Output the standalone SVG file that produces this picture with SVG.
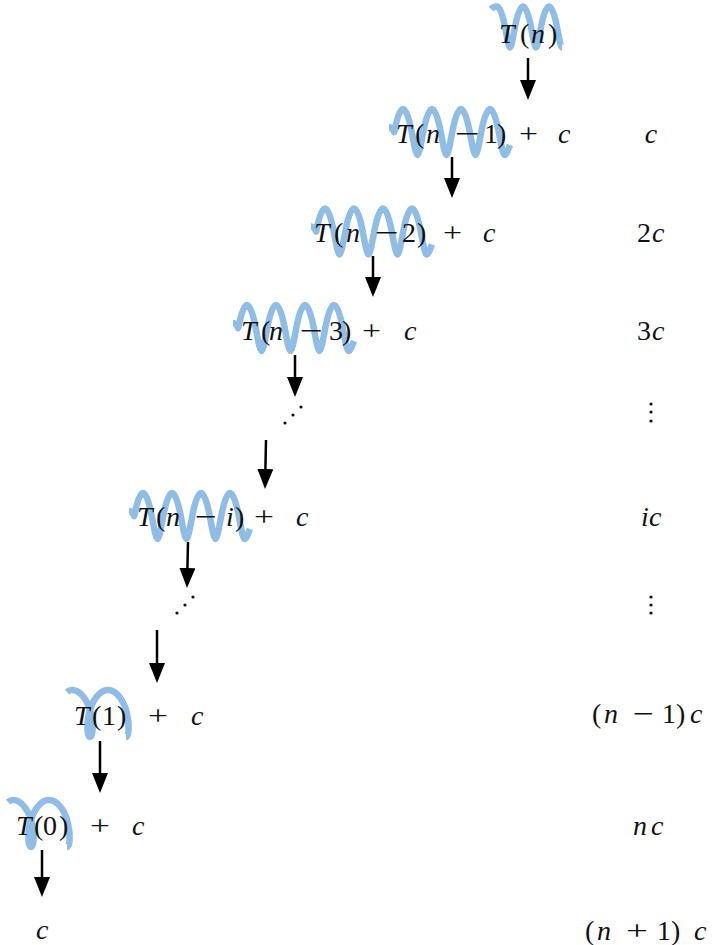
<svg xmlns="http://www.w3.org/2000/svg" xmlns:xlink="http://www.w3.org/1999/xlink" width="716" height="945" viewBox="0 0 716 945" font-family="Liberation Serif, serif">
<style>
.coil{fill:none;stroke:#8fbde6;stroke-width:6.5;stroke-linejoin:round}
text,tspan{font-family:"Liberation Serif",serif}
.m{font-size:28px;font-style:italic;fill:#111}
.r{font-size:28px;font-style:normal;fill:#111}
.arr{stroke:#000;stroke-width:2.5;fill:none;marker-end:url(#ah)}
.dot{fill:#111}
</style>
<defs>
<marker id="ah" markerUnits="userSpaceOnUse" markerWidth="20" markerHeight="16" refX="10" refY="8" orient="auto">
<path d="M0,0 L20,8 L0,16 z" fill="#000"/>
</marker>
<path id="coil4" class="coil" d="M-14,-5 c1.5,0 3.5,1.5 5.25,5 c2.417,-12.7 5.505,-23 8.75,-23 c3.245,0 6.333,10.3 8.75,23 c2.417,12.7 4.161,23 5.75,23 c1.589,0 3.333,-10.3 5.75,-23 c2.417,-12.7 5.505,-23 8.75,-23 c3.245,0 6.333,10.3 8.75,23 c2.417,12.7 4.161,23 5.75,23 c1.589,0 3.333,-10.3 5.75,-23 c2.417,-12.7 5.505,-23 8.75,-23 c3.245,0 6.333,10.3 8.75,23 c2.417,12.7 4.161,23 5.75,23 c1.589,0 3.333,-10.3 5.75,-23 c2.417,-12.7 5.505,-23 8.75,-23 c3.245,0 6.333,10.3 8.75,23 c2.417,12.7 4.161,23 5.75,23 c1.589,0 3.5,-5 5.5,-10"/>
<path id="coil2" class="coil" d="M67,692 c1.5,-1.3 3,-2 5,-2 c8.523,0 16,10.52 19,23.5 c3,12.98 1.523,23.5 -1,23.5 c-2.523,0 -4,-10.52 -1,-23.5 c3,-12.98 10.477,-23.5 19,-23.5 c8.523,0 16,10.52 19,23.5 c3,12.98 1.523,23.5 -1,23.5"/>
</defs>

<g id="node-Tn">
<path class="coil" d="M491,9 c1.8,-2 3.8,-2.5 6,-2.5 c2.995,0 5.833,9.18 8,20.5 c2.167,11.32 3.661,20.5 5,20.5 c1.339,0 2.833,-9.18 5,-20.5 c2.167,-11.32 5.005,-20.5 8,-20.5 c2.995,0 5.833,9.18 8,20.5 c2.167,11.32 3.661,20.5 5,20.5 c1.339,0 2.833,-9.18 5,-20.5 c2.167,-11.32 5.005,-20.5 8,-20.5 c2.995,0 5.833,9.18 8,20.5 c2.167,11.32 3.661,20.5 5,20.5"/>
<text y="43"><tspan class="m" x="499">T</tspan><tspan class="r" x="520">(</tspan><tspan class="m" x="531">n</tspan><tspan class="r" x="548">)</tspan></text>
</g>

<g id="node-Tn1">
<use xlink:href="#coil4" href="#coil4" transform="translate(403,132)"/>
<text y="143"><tspan class="m" x="396">T</tspan><tspan class="r" x="415">(</tspan><tspan class="m" x="426">n</tspan><tspan class="r" x="484">1</tspan><tspan class="r" x="497">)</tspan><tspan class="m" x="558">c</tspan></text>
<text class="r" x="455" y="143" textLength="25" lengthAdjust="spacingAndGlyphs">−</text>
<text class="r" x="519" y="143" textLength="19" lengthAdjust="spacingAndGlyphs">+</text>
</g>

<g id="node-Tn2">
<use xlink:href="#coil4" href="#coil4" transform="translate(325,231.5)"/>
<text y="242"><tspan class="m" x="314">T</tspan><tspan class="r" x="334">(</tspan><tspan class="m" x="346">n</tspan><tspan class="r" x="402">2</tspan><tspan class="r" x="417">)</tspan><tspan class="m" x="483">c</tspan></text>
<text class="r" x="375" y="242" textLength="24" lengthAdjust="spacingAndGlyphs">−</text>
<text class="r" x="443" y="242" textLength="19" lengthAdjust="spacingAndGlyphs">+</text>
</g>

<g id="node-Tn3">
<use xlink:href="#coil4" href="#coil4" transform="translate(247,328)"/>
<text y="340"><tspan class="m" x="241">T</tspan><tspan class="r" x="261">(</tspan><tspan class="m" x="269">n</tspan><tspan class="r" x="329">3</tspan><tspan class="r" x="342">)</tspan><tspan class="m" x="404">c</tspan></text>
<text class="r" x="300" y="340" textLength="23" lengthAdjust="spacingAndGlyphs">−</text>
<text class="r" x="362" y="340" textLength="19" lengthAdjust="spacingAndGlyphs">+</text>
</g>

<g id="dots-1">
<circle class="dot" cx="285" cy="423" r="1.6"/><circle class="dot" cx="293" cy="415" r="1.6"/><circle class="dot" cx="301" cy="407" r="1.6"/>
</g>

<g id="node-Tni">
<use xlink:href="#coil4" href="#coil4" transform="translate(143,516)"/>
<text y="526"><tspan class="m" x="137">T</tspan><tspan class="r" x="156">(</tspan><tspan class="m" x="166">n</tspan><tspan class="m" x="226">i</tspan><tspan class="r" x="235">)</tspan><tspan class="m" x="296">c</tspan></text>
<text class="r" x="195" y="526" textLength="22" lengthAdjust="spacingAndGlyphs">−</text>
<text class="r" x="254" y="526" textLength="20" lengthAdjust="spacingAndGlyphs">+</text>
</g>

<g id="dots-2">
<circle class="dot" cx="177" cy="613" r="1.6"/><circle class="dot" cx="185" cy="605" r="1.6"/><circle class="dot" cx="193" cy="597" r="1.6"/>
</g>

<g id="node-T1">
<use xlink:href="#coil2" href="#coil2"/>
<text y="725"><tspan class="m" x="74">T</tspan><tspan class="r" x="92">(</tspan><tspan class="r" x="102">1</tspan><tspan class="r" x="117">)</tspan><tspan class="m" x="191">c</tspan></text>
<text class="r" x="148" y="725" textLength="20" lengthAdjust="spacingAndGlyphs">+</text>
</g>

<g id="node-T0">
<use xlink:href="#coil2" href="#coil2" transform="translate(-59,110)"/>
<text y="835"><tspan class="m" x="16">T</tspan><tspan class="r" x="34">(</tspan><tspan class="r" x="43">0</tspan><tspan class="r" x="59">)</tspan><tspan class="m" x="132">c</tspan></text>
<text class="r" x="90" y="835" textLength="20" lengthAdjust="spacingAndGlyphs">+</text>
</g>

<g id="node-c">
<text class="m" x="36" y="939">c</text>
</g>

<g id="costs">
<text class="m" x="651" y="143" text-anchor="middle">c</text>
<text y="242"><tspan class="r" x="637">2</tspan><tspan class="m" x="652">c</tspan></text>
<text y="340"><tspan class="r" x="637">3</tspan><tspan class="m" x="652">c</tspan></text>
<circle class="dot" cx="651" cy="404" r="1.6"/><circle class="dot" cx="651" cy="412" r="1.6"/><circle class="dot" cx="651" cy="421" r="1.6"/>
<text y="526"><tspan class="m" x="641">i</tspan><tspan class="m" x="649">c</tspan></text>
<circle class="dot" cx="651" cy="597" r="1.6"/><circle class="dot" cx="651" cy="605" r="1.6"/><circle class="dot" cx="651" cy="613" r="1.6"/>
<text y="723"><tspan class="r" x="592">(</tspan><tspan class="m" x="604">n</tspan><tspan class="r" x="662">1</tspan><tspan class="r" x="676">)</tspan><tspan class="m" x="690">c</tspan></text>
<text class="r" x="633" y="723" textLength="21" lengthAdjust="spacingAndGlyphs">−</text>
<text y="835"><tspan class="m" x="633">n</tspan><tspan class="m" x="651">c</tspan></text>
<text y="940"><tspan class="r" x="585">(</tspan><tspan class="m" x="597">n</tspan><tspan class="r" x="657">1</tspan><tspan class="r" x="671">)</tspan><tspan class="m" x="694">c</tspan></text>
<text class="r" x="626" y="940" textLength="22" lengthAdjust="spacingAndGlyphs">+</text>
</g>

<g id="connectors">
<line class="arr" x1="528" y1="58" x2="528" y2="90"/>
<line class="arr" x1="452" y1="157" x2="452" y2="188"/>
<line class="arr" x1="373" y1="256" x2="373" y2="287"/>
<line class="arr" x1="295" y1="355" x2="295" y2="387"/>
<line class="arr" x1="266" y1="440" x2="265.2" y2="479"/>
<line class="arr" x1="188" y1="542" x2="187.2" y2="578"/>
<line class="arr" x1="157" y1="630" x2="157" y2="673"/>
<line class="arr" x1="100" y1="741" x2="100" y2="783"/>
<line class="arr" x1="42" y1="850" x2="42" y2="887"/>
</g>
</svg>
